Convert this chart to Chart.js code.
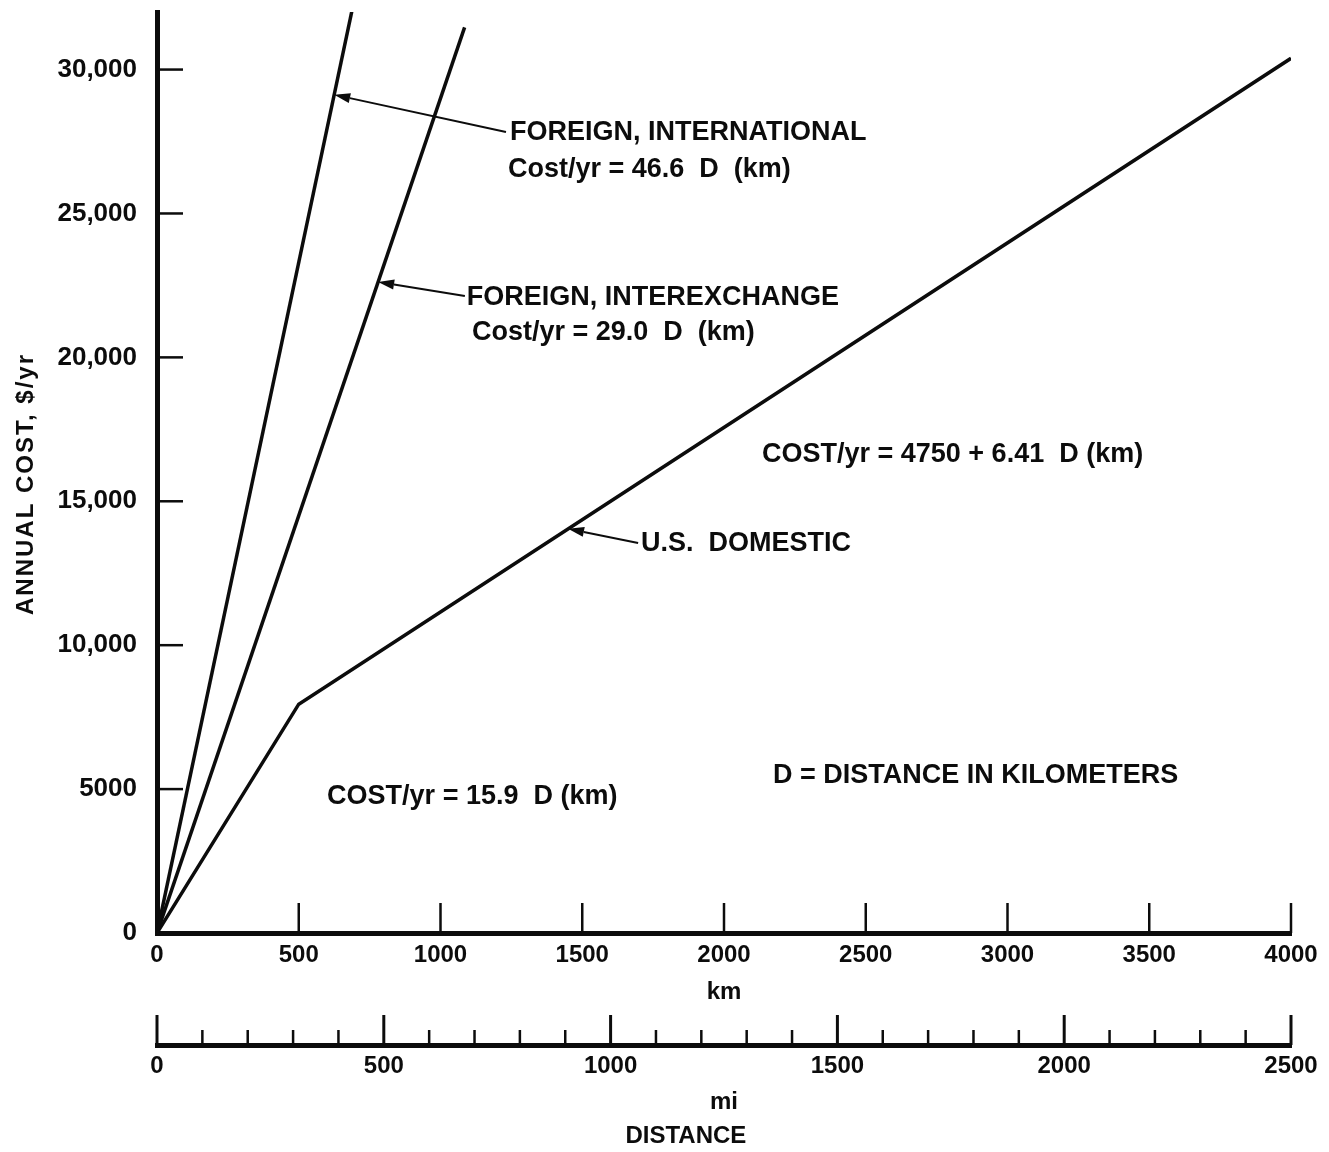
<!DOCTYPE html>
<html>
<head>
<meta charset="utf-8">
<title>Annual cost versus distance</title>
<script src="https://cdn.jsdelivr.net/npm/chart.js@4.4.1/dist/chart.umd.min.js"></script>
<style>
  html, body { margin: 0; padding: 0; background: #ffffff; }
  canvas { display: block; }
</style>
</head>
<body>
<canvas id="chart" width="1329" height="1152"></canvas>
<script>
// ---- Data: annual circuit cost ($/yr) against distance (km) ----
const intlKm = [0, 700];                 // Foreign, international: 46.6 $/km
const intlCost = [0, 32620];
const interKm = [0, 1085];               // Foreign, interexchange: 29.0 $/km
const interCost = [0, 31465];
const domesticKm = [0, 500, 4000];       // U.S. domestic: 15.9 D, then 4750 + 6.41 D
const domesticCost = [0, 7950, 30390];

// ---- Axis ticks ----
const costTicks = [0, 5000, 10000, 15000, 20000, 25000, 30000];
const costLabels = ['0', '5000', '10,000', '15,000', '20,000', '25,000', '30,000'];
const kmTicks = [0, 500, 1000, 1500, 2000, 2500, 3000, 3500, 4000];
const kmLabels = ['0', '500', '1000', '1500', '2000', '2500', '3000', '3500', '4000'];
const miTicks = [0, 100, 200, 300, 400, 500, 600, 700, 800, 900, 1000, 1100, 1200,
                 1300, 1400, 1500, 1600, 1700, 1800, 1900, 2000, 2100, 2200, 2300, 2400, 2500];
const miMajor = [0, 500, 1000, 1500, 2000, 2500];
const miLabels = ['0', '500', '1000', '1500', '2000', '2500'];

const INK = '#0c0c0c';
const FONT = "'Liberation Sans', Arial, sans-serif";

// Callouts placed in data space (km, $/yr); arrows point from the text to a line.
const callouts = [
  { text: 'FOREIGN, INTERNATIONAL', at: [1245, 27800] },
  { text: 'Cost/yr = 46.6  D  (km)', at: [1238, 26510] },
  { text: 'FOREIGN, INTEREXCHANGE', at: [1093, 22065] },
  { text: 'Cost/yr = 29.0  D  (km)', at: [1111, 20850] },
  { text: 'COST/yr = 4750 + 6.41  D (km)', at: [2134, 16610] },
  { text: 'U.S.  DOMESTIC', at: [1707, 13516] },
  { text: 'D = DISTANCE IN KILOMETERS', at: [2173, 5455] },
  { text: 'COST/yr = 15.9  D (km)', at: [600, 4725] }
];
const arrows = [
  { from: [1231, 27830], to: [625, 29125] },
  { from: [1086, 22130], to: [780, 22620] },
  { from: [1697, 13550], to: [1450, 14045] }
];

function pts(xs, ys) { return xs.map((v, i) => ({ x: v, y: ys[i] })); }

const paperPlugin = {
  id: 'paperAxes',
  afterDraw(chart) {
    const { ctx, chartArea: a, scales } = chart;
    const x = scales.x, y = scales.y, mi = scales.mi;
    const seg = (x1, y1, x2, y2) => { ctx.beginPath(); ctx.moveTo(x1, y1); ctx.lineTo(x2, y2); ctx.stroke(); };
    ctx.save();
    ctx.strokeStyle = INK;
    ctx.fillStyle = INK;
    ctx.lineCap = 'butt';

    // inward tick marks on the cost axis
    ctx.lineWidth = 2.5;
    y.ticks.forEach(t => {
      if (t.value === 0) return;
      const py = y.getPixelForValue(t.value);
      seg(a.left, py, a.left + 26, py);
    });
    // upward tick marks on the km axis
    x.ticks.forEach(t => {
      if (t.value === 0) return;
      const px = x.getPixelForValue(t.value);
      seg(px, a.bottom, px, a.bottom - 30);
    });
    // mile scale: long marks every 500 mi, short marks every 100 mi
    mi.ticks.forEach(t => {
      const major = miMajor.includes(t.value);
      const px = mi.getPixelForValue(t.value);
      ctx.lineWidth = major ? 3 : 2.5;
      seg(px, mi.top, px, mi.top - (major ? 30 : 15));
    });

    // arrows
    ctx.lineWidth = 2;
    arrows.forEach(ar => {
      const x1 = x.getPixelForValue(ar.from[0]), y1 = y.getPixelForValue(ar.from[1]);
      const x2 = x.getPixelForValue(ar.to[0]), y2 = y.getPixelForValue(ar.to[1]);
      const ang = Math.atan2(y2 - y1, x2 - x1);
      const hl = 16, hw = 5;
      const bx = x2 - hl * Math.cos(ang), by = y2 - hl * Math.sin(ang);
      seg(x1, y1, bx, by);
      ctx.beginPath();
      ctx.moveTo(x2, y2);
      ctx.lineTo(bx + hw * Math.sin(ang), by - hw * Math.cos(ang));
      ctx.lineTo(bx - hw * Math.sin(ang), by + hw * Math.cos(ang));
      ctx.closePath();
      ctx.fill();
    });

    // callout text
    ctx.font = `bold 27px ${FONT}`;
    ctx.textAlign = 'left';
    ctx.textBaseline = 'middle';
    callouts.forEach(c => {
      ctx.fillText(c.text, x.getPixelForValue(c.at[0]), y.getPixelForValue(c.at[1]));
    });

    // shared distance caption under the mile scale
    ctx.textAlign = 'center';
    ctx.font = `bold 24px ${FONT}`;
    ctx.fillText('DISTANCE', mi.getPixelForValue(1166), 1136);

    // vertical cost-axis title
    ctx.translate(26, y.getPixelForValue(15600));
    ctx.rotate(-Math.PI / 2);
    ctx.font = `bold 24px ${FONT}`;
    ctx.letterSpacing = '2px';
    ctx.fillText('ANNUAL COST, $/yr', 0, 0);
    ctx.restore();
  }
};

const lineStyle = { showLine: true, borderColor: INK, borderWidth: 3.5, pointRadius: 0, fill: false, tension: 0 };
const yFont = { family: FONT, size: 26, weight: 'bold' };
const xFont = { family: FONT, size: 24, weight: 'bold' };
const hiddenGrid = { display: true, drawOnChartArea: false, drawTicks: false, color: 'rgba(0,0,0,0)' };

new Chart(document.getElementById('chart'), {
  type: 'scatter',
  data: {
    datasets: [
      Object.assign({ label: 'Foreign, international', data: pts(intlKm, intlCost) }, lineStyle),
      Object.assign({ label: 'Foreign, interexchange', data: pts(interKm, interCost) }, lineStyle),
      Object.assign({ label: 'U.S. domestic', data: pts(domesticKm, domesticCost) }, lineStyle)
    ]
  },
  options: {
    responsive: false,
    animation: false,
    devicePixelRatio: 1,
    layout: { padding: { top: 12, right: 38, bottom: 0, left: 0 } },
    plugins: { legend: { display: false }, tooltip: { enabled: false } },
    scales: {
      x: {
        type: 'linear', position: 'bottom', min: 0, max: 4000, weight: 0,
        afterBuildTicks: s => { s.ticks = kmTicks.map(v => ({ value: v })); },
        afterFit: s => { s.height = 112; s.paddingLeft = 0; s.paddingRight = 0; },
        grid: hiddenGrid,
        border: { display: true, width: 5, color: INK },
        ticks: { font: xFont, color: INK, padding: 8, maxRotation: 0, autoSkip: false,
                 callback: v => kmLabels[kmTicks.indexOf(v)] },
        title: { display: true, text: 'km', font: xFont, color: INK, padding: { top: 0, bottom: 38 } }
      },
      mi: {
        type: 'linear', position: 'bottom', min: 0, max: 2500, weight: 1,
        afterBuildTicks: s => { s.ticks = miTicks.map(v => ({ value: v })); },
        afterFit: s => { s.height = 107; s.paddingLeft = 0; s.paddingRight = 0; },
        grid: hiddenGrid,
        border: { display: true, width: 5, color: INK },
        ticks: { font: xFont, color: INK, padding: 7, maxRotation: 0, autoSkip: false,
                 callback: v => { const i = miMajor.indexOf(v); return i >= 0 ? miLabels[i] : ''; } },
        title: { display: true, text: 'mi', font: xFont, color: INK, padding: { top: 0, bottom: 35 } }
      },
      y: {
        type: 'linear', position: 'left', min: 0, max: 32000,
        afterBuildTicks: s => { s.ticks = costTicks.map(v => ({ value: v })); },
        afterFit: s => { s.width = 157; s.paddingTop = 0; s.paddingBottom = 0; },
        grid: hiddenGrid,
        border: { display: true, width: 5, color: INK },
        ticks: { font: yFont, color: INK, padding: 20,
                 callback: v => costLabels[costTicks.indexOf(v)] },
        title: { display: false }
      }
    }
  },
  plugins: [paperPlugin]
});
</script>
</body>
</html>
